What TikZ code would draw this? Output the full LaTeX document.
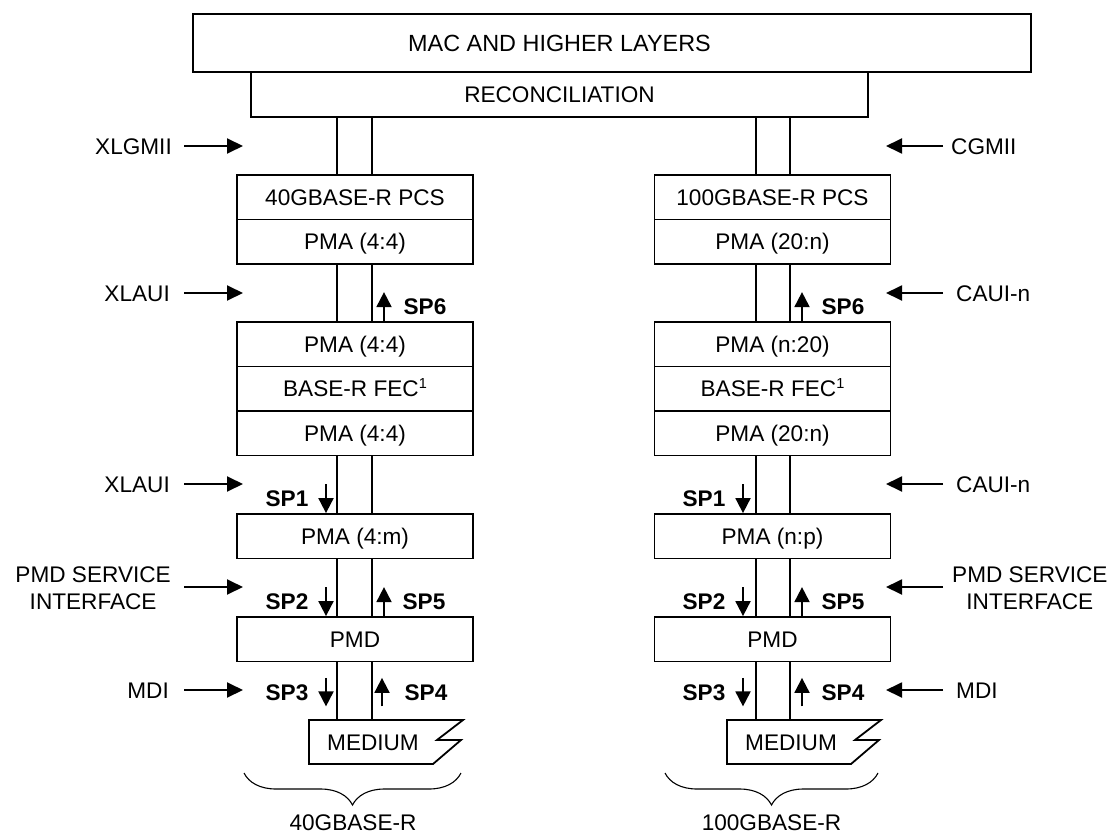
\documentclass[tikz,border=0pt]{standalone}
\usepackage{fontspec}
\setmainfont{Liberation Sans}
\usetikzlibrary{arrows.meta,decorations.pathreplacing}
\begin{document}
\begin{tikzpicture}[x=1pt,y=-1pt,
  box/.style={draw, line width=1.8pt, minimum width=236pt, minimum height=44.5pt, inner sep=0pt,
    font=\fontsize{22.6}{26}\selectfont, text height=16.2pt, text depth=0pt},
  lbl/.style={inner sep=0pt, font=\fontsize{22.6}{26}\selectfont, text height=16.2pt, text depth=0pt},
  lbltwo/.style={inner sep=0pt, align=center, font=\fontsize{22.6}{27}\selectfont},
  sp/.style={inner sep=0pt, font=\fontsize{22.6}{26}\selectfont\bfseries, text height=16.2pt, text depth=0pt},
  ifarrow/.style={line width=1.9pt, -{Triangle[length=16pt,width=15pt]}},
  sparrow/.style={line width=1.9pt, -{Triangle[length=15pt,width=15pt]}},
  pipe/.style={line width=1.8pt},
  medium/.style={line width=1.8pt},
  brc/.style={decorate, decoration={brace, mirror, amplitude=32pt}, line width=1.1pt}
]
\useasboundingbox (0,0) rectangle (1115,834);

% top boxes
\node[box, minimum width=838pt, minimum height=58pt] (mac) at (612,43) {};
\node[box, minimum width=617pt, minimum height=45pt] (recon) at (559.5,94.5) {RECONCILIATION};
\node[lbl, font=\fontsize{23.4}{26}\selectfont, text height=16.7pt] (mactext) at (mac.center -| recon.center) {MAC AND HIGHER LAYERS};

% helper x coordinates
\coordinate (xl1) at (337,0);
\coordinate (xl2) at (372,0);
\coordinate (xr1) at (756,0);
\coordinate (xr2) at (790,0);
\coordinate (ltail) at (184,0);
\coordinate (ltip) at (243,0);
\coordinate (rtail) at (943,0);
\coordinate (rtip) at (886,0);

% left column
\node[box] (pcsL)  at (355,197.25) {40GBASE-R PCS};
\node[box] (pmaLa) at (355,241.75) {PMA (4:4)};
\node[box] (pmaLb) at (355,344.25) {PMA (4:4)};
\node[box] (fecL)  at (355,388.75) {BASE-R FEC\raisebox{8.5pt}{\fontsize{14.5}{14}\selectfont 1}};
\node[box] (pmaLc) at (355,433.25) {PMA (4:4)};
\node[box] (pmaLd) at (355,536.25) {PMA (4:m)};
\node[box] (pmdL)  at (355,639.25) {PMD};
\coordinate (medLtop) at (309,720);
\draw[medium] (medLtop) -- (463,720) -- (437,740) -- (461,740) -- (433,764) -- (309,764) -- cycle;
\node[lbl] (medLtext) at (373,742) {MEDIUM};

% right column
\node[box] (pcsR)  at (772.5,197.25) {100GBASE-R PCS};
\node[box] (pmaRa) at (772.5,241.75) {PMA (20:n)};
\node[box] (pmaRb) at (772.5,344.25) {PMA (n:20)};
\node[box] (fecR)  at (772.5,388.75) {BASE-R FEC\raisebox{8.5pt}{\fontsize{14.5}{14}\selectfont 1}};
\node[box] (pmaRc) at (772.5,433.25) {PMA (20:n)};
\node[box] (pmaRd) at (772.5,536.25) {PMA (n:p)};
\node[box] (pmdR)  at (772.5,639.25) {PMD};
\coordinate (medRtop) at (727,720);
\draw[medium] (medRtop) -- (881,720) -- (855,740) -- (879,740) -- (851,764) -- (727,764) -- cycle;
\node[lbl] (medRtext) at (791,742) {MEDIUM};

% pipes
\foreach \p in {xl1,xl2} {
  \draw[pipe] (recon.south -| \p) -- (pcsL.north -| \p);
  \draw[pipe] (pmaLa.south -| \p) -- (pmaLb.north -| \p);
  \draw[pipe] (pmaLc.south -| \p) -- (pmaLd.north -| \p);
  \draw[pipe] (pmaLd.south -| \p) -- (pmdL.north -| \p);
  \draw[pipe] (pmdL.south -| \p) -- (medLtop -| \p);
}
\foreach \p in {xr1,xr2} {
  \draw[pipe] (recon.south -| \p) -- (pcsR.north -| \p);
  \draw[pipe] (pmaRa.south -| \p) -- (pmaRb.north -| \p);
  \draw[pipe] (pmaRc.south -| \p) -- (pmaRd.north -| \p);
  \draw[pipe] (pmaRd.south -| \p) -- (pmdR.north -| \p);
  \draw[pipe] (pmdR.south -| \p) -- (medRtop -| \p);
}

% left interface labels
\node[lbl, anchor=east] (xlgmii) at (172,146) {XLGMII};
\node[lbl, anchor=east] (xlaui1) at (170,293) {XLAUI};
\node[lbl, anchor=east] (xlaui2) at (170,484) {XLAUI};
\node[lbltwo, anchor=east] (pmdsiL) at (171,588.5) {PMD SERVICE\\INTERFACE};
\node[lbl, anchor=east] (mdiL) at (169,690) {MDI};
\foreach \n in {xlgmii,xlaui1,xlaui2,mdiL}
  \draw[ifarrow] (\n.east -| ltail) -- (\n.east -| ltip);
\draw[ifarrow] ([yshift=1.5pt]pmdsiL.east -| ltail) -- ([yshift=1.5pt]pmdsiL.east -| ltip);

% right interface labels
\node[lbl, anchor=west] (cgmii) at (951,146) {CGMII};
\node[lbl, anchor=west] (caui1) at (956,293) {CAUI-n};
\node[lbl, anchor=west] (caui2) at (956,484) {CAUI-n};
\node[lbltwo, anchor=west] (pmdsiR) at (952,588.5) {PMD SERVICE\\INTERFACE};
\node[lbl, anchor=west] (mdiR) at (956,690) {MDI};
\foreach \n in {cgmii,caui1,caui2,mdiR}
  \draw[ifarrow] (\n.west -| rtail) -- (\n.west -| rtip);
\draw[ifarrow] ([yshift=1.5pt]pmdsiR.west -| rtail) -- ([yshift=1.5pt]pmdsiR.west -| rtip);

% SP arrows, left
\draw[sparrow] ([xshift=29pt]pmaLb.north) -- ([xshift=29pt,yshift=29pt]pmaLb.north)
  node[sp, midway, xshift=41pt] (sp6L) {SP6};
\draw[sparrow] ([xshift=-29pt,yshift=29pt]pmaLd.north) -- ([xshift=-29pt]pmaLd.north)
  node[sp, midway, xshift=-39pt] (sp1L) {SP1};
\draw[sparrow] ([xshift=-29pt,yshift=29pt]pmdL.north) -- ([xshift=-29pt]pmdL.north)
  node[sp, midway, xshift=-39pt] (sp2L) {SP2};
\draw[sparrow] ([xshift=29pt]pmdL.north) -- ([xshift=29pt,yshift=29pt]pmdL.north)
  node[sp, midway, xshift=40pt] (sp5L) {SP5};
\draw[sparrow] ([xshift=-29pt,yshift=-15.5pt]pmdL.south) -- ([xshift=-29pt,yshift=-44pt]pmdL.south)
  node[sp, midway, xshift=-39pt] (sp3L) {SP3};
\draw[sparrow] ([xshift=27pt,yshift=-44pt]pmdL.south) -- ([xshift=27pt,yshift=-15.5pt]pmdL.south)
  node[sp, midway, xshift=44pt] (sp4L) {SP4};

% SP arrows, right
\draw[sparrow] ([xshift=29.5pt]pmaRb.north) -- ([xshift=29.5pt,yshift=29pt]pmaRb.north)
  node[sp, midway, xshift=41pt] (sp6R) {SP6};
\draw[sparrow] ([xshift=-29.5pt,yshift=29pt]pmaRd.north) -- ([xshift=-29.5pt]pmaRd.north)
  node[sp, midway, xshift=-39pt] (sp1R) {SP1};
\draw[sparrow] ([xshift=-29.5pt,yshift=29pt]pmdR.north) -- ([xshift=-29.5pt]pmdR.north)
  node[sp, midway, xshift=-39pt] (sp2R) {SP2};
\draw[sparrow] ([xshift=29.5pt]pmdR.north) -- ([xshift=29.5pt,yshift=29pt]pmdR.north)
  node[sp, midway, xshift=41pt] (sp5R) {SP5};
\draw[sparrow] ([xshift=-29.5pt,yshift=-15.5pt]pmdR.south) -- ([xshift=-29.5pt,yshift=-44pt]pmdR.south)
  node[sp, midway, xshift=-39pt] (sp3R) {SP3};
\draw[sparrow] ([xshift=29.5pt,yshift=-44pt]pmdR.south) -- ([xshift=29.5pt,yshift=-15.5pt]pmdR.south)
  node[sp, midway, xshift=41pt] (sp4R) {SP4};

% braces
\coordinate (brLa) at (244,773);
\coordinate (brLb) at (461,773);
\coordinate (brRa) at (665,773);
\coordinate (brRb) at (878,773);
\draw[brc] (brLa) -- (brLb);
\draw[brc] (brRa) -- (brRb);
\node[lbl] (lab40) at (353,822) {40GBASE-R};
\node[lbl] (lab100) at (771.5,822) {100GBASE-R};
\end{tikzpicture}
\end{document}
